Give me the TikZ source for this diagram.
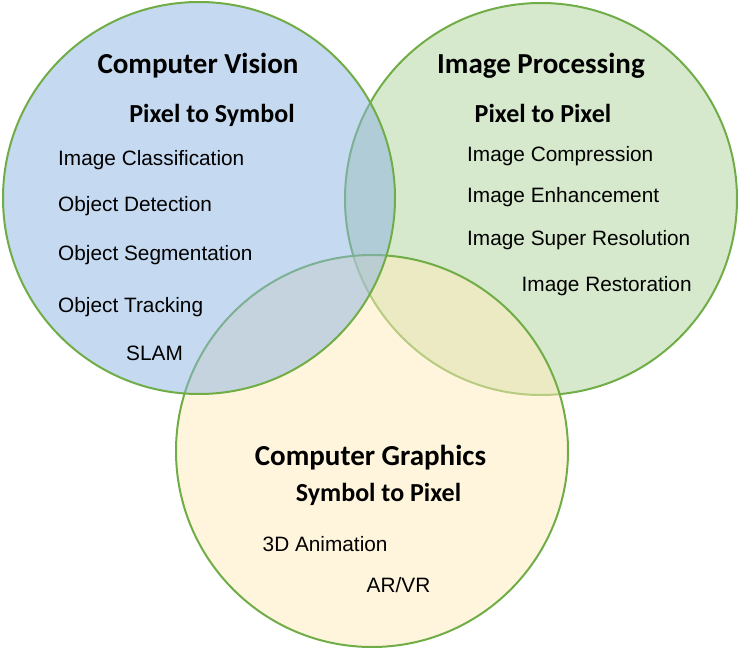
\documentclass[tikz,border=0pt]{standalone}
\usepackage{fontspec}
\setmainfont{Liberation Sans}
\newfontfamily\headfont{Carlito}
\definecolor{edgegreen}{RGB}{112,173,71}
\definecolor{ipfill}{RGB}{215,233,205}
\definecolor{cvfill}{RGB}{139,179,225}
\definecolor{cgfill}{RGB}{255,235,185}
\begin{document}
\begin{tikzpicture}[x=1pt,y=-1pt,
  venn/.style={draw=edgegreen, line width=2pt},
  head/.style={font=\headfont\bfseries\fontsize{29}{34}\selectfont, anchor=base, inner sep=0pt},
  subhead/.style={font=\headfont\bfseries\fontsize{26}{30}\selectfont, anchor=base, inner sep=0pt},
  item/.style={font=\fontsize{20.8}{24}\selectfont, anchor=base west, inner sep=0pt}]
\useasboundingbox (0,0) rectangle (739,650);
% circles: green first, then yellow, then blue
\path[venn, fill=ipfill] (541,199) circle (196pt);
\path[venn, fill=cgfill, fill opacity=0.5] (372,451) circle (196pt);
\path[venn, fill=cvfill, fill opacity=0.5] (199,198) circle (196pt);
% Computer Vision
\node[head] (cvh) at (198,74) {Computer Vision};
\node[subhead] (cvs) at (212,122.7) {Pixel to Symbol};
\node[item] (cv1) at (58,166) {Image Classification};
\node[item] (cv2) at (58,211) {Object Detection};
\node[item] (cv3) at (58,260) {Object Segmentation};
\node[item] (cv4) at (58,312) {Object Tracking};
\node[item] (cv5) at (126,360) {SLAM};
% Image Processing
\node[head] (iph) at (541,74) {Image Processing};
\node[subhead] (ips) at (543,122.7) {Pixel to Pixel};
\node[item] (ip1) at (467,161) {Image Compression};
\node[item] (ip2) at (467,202.5) {Image Enhancement};
\node[item] (ip3) at (467,245) {Image Super Resolution};
\node[item] (ip4) at (521.5,291.7) {Image Restoration};
% Computer Graphics
\node[head] (cgh) at (370.5,465.7) {Computer Graphics};
\node[subhead] (cgs) at (378.5,501.7) {Symbol to Pixel};
\node[item] (cg1) at (262.5,551) {3D Animation};
\node[item] (cg2) at (366.5,592.7) {AR/VR};
\end{tikzpicture}
\end{document}
